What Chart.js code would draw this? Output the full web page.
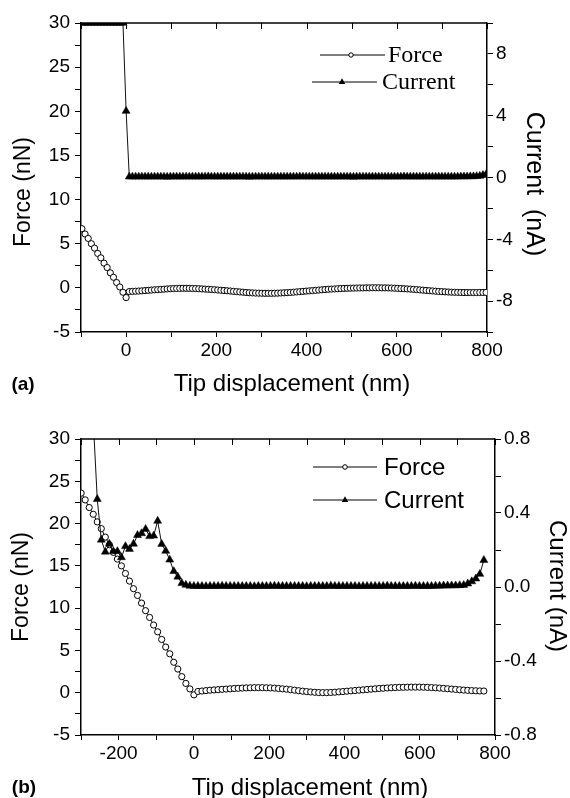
<!DOCTYPE html>
<html lang="en">
  <head>
    <meta charset="UTF-8" />
    <title>Force and current vs tip displacement</title>
    <style>
      body {
        margin: 0;
        padding: 0;
        background: #ffffff;
      }
      canvas {
        display: block;
      }
    </style>
    <script src="https://cdn.jsdelivr.net/npm/chart.js@4"></script>
  </head>
  <body>
    <canvas id="chartA" width="570" height="400"></canvas>
    <canvas id="chartB" width="570" height="398"></canvas>
    <script>
      // ---- panel (a): one sample every 7 nm, from -98 nm ----
      const aStart = -98;
      const aStep = 7;
      const aForce = [
        6.7, 6.1, 5.6, 5.0, 4.5, 3.9, 3.4, 2.8, 2.3, 1.7, 1.2, 0.6, 0.1, -0.5, -1.1,
        -0.42, -0.4, -0.38, -0.36, -0.34, -0.31, -0.28, -0.25, -0.22, -0.2,
        -0.17, -0.15, -0.12, -0.1, -0.08, -0.07, -0.06, -0.05, -0.05, -0.06,
        -0.07, -0.08, -0.1, -0.12, -0.14, -0.16, -0.19, -0.21, -0.24, -0.27,
        -0.3, -0.33, -0.36, -0.4, -0.43, -0.46, -0.49, -0.52, -0.55, -0.57,
        -0.59, -0.6, -0.61, -0.62, -0.62, -0.62, -0.61, -0.6, -0.58, -0.56,
        -0.54, -0.52, -0.49, -0.46, -0.43, -0.4, -0.37, -0.34, -0.31, -0.28,
        -0.25, -0.22, -0.19, -0.16, -0.14, -0.12, -0.1, -0.08, -0.06, -0.05,
        -0.04, -0.03, -0.02, -0.01, -0.01, 0, 0, 0.01, 0.01, 0.01,
        0, 0, -0.01, -0.02, -0.04, -0.06, -0.08, -0.1, -0.12, -0.14,
        -0.17, -0.2, -0.23, -0.26, -0.29, -0.32, -0.35, -0.38, -0.41, -0.43,
        -0.45, -0.47, -0.49, -0.5, -0.51, -0.52, -0.53, -0.53, -0.53, -0.53,
        -0.53, -0.52, -0.52, -0.52,
      ];
      const aCurrent = [
        10, 10, 10, 10, 10, 10, 10, 10, 10, 10, 10, 10, 10, 10, 4.3,
        0.05, 0.05, 0.05, 0.05, 0.05, 0.05, 0.05, 0.05, 0.05, 0.05,
        0.05, 0.05, 0.04, 0.05, 0.05, 0.05, 0.05, 0.05, 0.05, 0.05,
        0.05, 0.05, 0.05, 0.05, 0.05, 0.06, 0.05, 0.05, 0.05, 0.05,
        0.05, 0.05, 0.05, 0.05, 0.05, 0.05, 0.05, 0.05, 0.04, 0.05,
        0.05, 0.05, 0.05, 0.05, 0.05, 0.05, 0.05, 0.05, 0.05, 0.05,
        0.05, 0.05, 0.05, 0.05, 0.06, 0.05, 0.05, 0.05, 0.05, 0.05,
        0.05, 0.05, 0.05, 0.05, 0.05, 0.05, 0.05, 0.05, 0.05, 0.05,
        0.05, 0.04, 0.05, 0.05, 0.05, 0.05, 0.05, 0.05, 0.05, 0.05,
        0.05, 0.05, 0.05, 0.05, 0.05, 0.05, 0.05, 0.06, 0.05, 0.05,
        0.05, 0.05, 0.05, 0.05, 0.05, 0.05, 0.05, 0.05, 0.05, 0.05,
        0.05, 0.05, 0.05, 0.05, 0.05, 0.06, 0.06, 0.06, 0.07, 0.07,
        0.08, 0.1, 0.15, 0.2,
      ];
      const aXLabels = [0, 200, 400, 600, 800];
      const aForceLabels = [-5, 0, 5, 10, 15, 20, 25, 30];
      const aCurrentLabels = [-8, -4, 0, 4, 8];

      // ---- panel (b): one sample every 10.7 nm, from -299.6 nm ----
      const bStart = -299.6;
      const bStep = 10.7;
      const bForce = [
        23.6, 22.8, 21.9, 21.1, 20.2, 19.4, 18.4, 17.5, 16.6, 15.8,
        15.0, 14.1, 13.2, 12.3, 11.5, 10.6, 9.7, 8.9, 8.0, 7.2,
        6.3, 5.4, 4.6, 3.6, 2.8, 1.9, 1.1, 0.45, -0.25,
        0.15, 0.2, 0.25, 0.3, 0.33, 0.36, 0.4, 0.43, 0.46, 0.5,
        0.52, 0.55, 0.57, 0.58, 0.6, 0.6, 0.6, 0.58, 0.57, 0.54,
        0.5, 0.46, 0.42, 0.36, 0.3, 0.24, 0.18, 0.13, 0.09, 0.05,
        0.02, 0.01, 0.01, 0.03, 0.06, 0.1, 0.14, 0.18, 0.22, 0.26,
        0.3, 0.34, 0.38, 0.42, 0.46, 0.5, 0.53, 0.56, 0.59, 0.61,
        0.63, 0.64, 0.65, 0.66, 0.66, 0.66, 0.65, 0.63, 0.61, 0.58,
        0.55, 0.51, 0.47, 0.43, 0.39, 0.35, 0.31, 0.28, 0.25, 0.23,
        0.21, 0.2,
      ];
      const bCurrent = [
        0.9, 0.9, 0.9, 0.9,
        0.475, 0.255, 0.19, 0.233, 0.193, 0.193, 0.16, 0.22, 0.205, 0.233,
        0.28, 0.29, 0.313, 0.274, 0.277, 0.357, 0.232, 0.195, 0.147, 0.085,
        0.055, 0.02, 0.011, 0.006, 0.005,
        0.005, 0.005, 0.004, 0.005, 0.005, 0.005, 0.006, 0.005, 0.005, 0.005, 0.005,
        0.005, 0.005, 0.005, 0.004, 0.005, 0.005, 0.005, 0.005, 0.006, 0.005, 0.005,
        0.005, 0.005, 0.005, 0.005, 0.005, 0.004, 0.005, 0.005, 0.005, 0.005, 0.005,
        0.006, 0.005, 0.005, 0.005, 0.005, 0.005, 0.005, 0.004, 0.005, 0.005, 0.005,
        0.005, 0.005, 0.005, 0.006, 0.005, 0.005, 0.005, 0.005, 0.005, 0.005, 0.006,
        0.005, 0.005, 0.005, 0.005, 0.006, 0.006, 0.007, 0.007, 0.008, 0.008, 0.009,
        0.01, 0.018, 0.03, 0.045, 0.07, 0.145,
      ];
      const bXLabels = [-200, 0, 200, 400, 600, 800];
      const bForceLabels = [-5, 0, 5, 10, 15, 20, 25, 30];
      const bCurrentLabels = [-0.8, -0.4, 0, 0.4, 0.8];

      const SANS = "Arial, 'Liberation Sans', sans-serif";
      const SERIF = "'Times New Roman', 'Liberation Serif', serif";

      function toPoints(values, start, step) {
        return values.map((v, i) => ({ x: Math.round((start + i * step) * 10) / 10, y: v }));
      }

      // top spine with inward ticks, axis titles, panel tag and the in-plot legend
      const decorations = {
        id: "decorations",
        afterDraw(chart, args, o) {
          const { ctx, chartArea: area } = chart;
          const xs = chart.scales.x;
          ctx.save();
          ctx.strokeStyle = "#000";
          ctx.lineWidth = 1.5;
          ctx.beginPath();
          ctx.moveTo(area.left, area.top);
          ctx.lineTo(area.right, area.top);
          ctx.stroke();
          ctx.lineWidth = 1;
          ctx.beginPath();
          xs.ticks.forEach((t) => {
            const px = Math.round(xs.getPixelForValue(t.value)) + 0.5;
            ctx.moveTo(px, area.top);
            ctx.lineTo(px, area.top + 6);
          });
          ctx.stroke();

          ctx.fillStyle = "#000";
          ctx.textAlign = "center";
          ctx.textBaseline = "middle";
          o.texts.forEach((t) => {
            ctx.save();
            ctx.translate(t.x, t.y);
            ctx.rotate(((t.rotate || 0) * Math.PI) / 180);
            ctx.font = t.font;
            ctx.fillText(t.text, 0, 0);
            ctx.restore();
          });

          o.legend.forEach((item, i) => {
            const ds = chart.data.datasets[i];
            ctx.strokeStyle = "#000";
            ctx.lineWidth = 1;
            ctx.beginPath();
            ctx.moveTo(item.x1, item.y);
            ctx.lineTo(item.x2, item.y);
            ctx.stroke();
            ctx.beginPath();
            if (ds.pointStyle === "circle") {
              ctx.arc(item.mx, item.y, item.r, 0, Math.PI * 2);
              ctx.fillStyle = "#fff";
              ctx.fill();
              ctx.stroke();
            } else {
              const r = item.r;
              ctx.moveTo(item.mx, item.y - r);
              ctx.lineTo(item.mx + r * 0.866, item.y + r * 0.5);
              ctx.lineTo(item.mx - r * 0.866, item.y + r * 0.5);
              ctx.closePath();
              ctx.fillStyle = "#000";
              ctx.fill();
            }
            ctx.fillStyle = "#000";
            ctx.font = o.legendFont;
            ctx.textAlign = "left";
            ctx.fillText(ds.label, item.tx, item.y + 1);
          });
          ctx.restore();
        },
      };

      function makePanel(id, p) {
        const tickFont = { family: SANS, size: 19 };
        const axisGrid = (len) => ({
          drawOnChartArea: false,
          drawTicks: true,
          tickLength: len,
          color: "#000",
        });
        return new Chart(document.getElementById(id), {
          type: "line",
          data: {
            datasets: [
              {
                label: "Force",
                data: toPoints(p.force, p.start, p.step),
                yAxisID: "y",
                borderColor: "#000",
                borderWidth: 1,
                pointStyle: "circle",
                pointRadius: 3.1,
                pointBorderWidth: 1,
                pointBackgroundColor: "#fff",
                pointBorderColor: "#000",
                clip: 0,
                order: 2,
              },
              {
                label: "Current",
                data: toPoints(p.current, p.start, p.step),
                yAxisID: "y2",
                borderColor: "#111",
                borderWidth: 1,
                pointStyle: "triangle",
                pointRadius: 4.6,
                pointBorderWidth: 0.5,
                pointBackgroundColor: "#000",
                pointBorderColor: "#000",
                clip: 0,
                order: 1,
              },
            ],
          },
          options: {
            responsive: false,
            animation: false,
            events: [],
            layout: { padding: { top: p.area.top, left: 0, right: 0, bottom: 0 } },
            plugins: {
              legend: { display: false },
              tooltip: { enabled: false },
              decorations: p.decor,
            },
            scales: {
              x: {
                type: "linear",
                position: "bottom",
                min: p.xMin,
                max: 800,
                afterFit: (s) => { s.height = p.size.h - p.area.bottom; },
                border: { color: "#000", width: 1.5 },
                grid: axisGrid(5),
                ticks: {
                  stepSize: 100,
                  autoSkip: false,
                  maxRotation: 0,
                  padding: 2,
                  color: "#000",
                  font: tickFont,
                  callback: (v) => (p.xLabels.includes(v) ? String(v) : ""),
                },
              },
              y: {
                position: "left",
                min: -5,
                max: 30,
                afterFit: (s) => { s.width = p.area.left; },
                border: { color: "#000", width: 1.5 },
                grid: axisGrid(6),
                ticks: {
                  stepSize: 2.5,
                  autoSkip: false,
                  padding: 5,
                  color: "#000",
                  font: tickFont,
                  callback: (v) => (p.forceLabels.includes(v) ? String(v) : ""),
                },
              },
              y2: {
                position: "right",
                min: p.cMin,
                max: p.cMax,
                afterFit: (s) => { s.width = p.size.w - p.area.right; },
                border: { color: "#000", width: 1.5 },
                grid: axisGrid(6),
                ticks: {
                  stepSize: p.cStep,
                  autoSkip: false,
                  padding: 3,
                  color: "#000",
                  font: tickFont,
                  callback: (v) => (p.currentLabels.includes(v) ? p.cFormat(v) : ""),
                },
              },
            },
          },
          plugins: [decorations],
        });
      }

      makePanel("chartA", {
        start: aStart,
        step: aStep,
        force: aForce,
        current: aCurrent,
        xMin: -100,
        cMin: -10,
        cMax: 10,
        cStep: 2,
        cFormat: (v) => String(v),
        xLabels: aXLabels,
        forceLabels: aForceLabels,
        currentLabels: aCurrentLabels,
        size: { w: 570, h: 400 },
        area: { left: 81, right: 487, top: 23, bottom: 332 },
        decor: {
          legendFont: "24px " + SERIF,
          legend: [
            { x1: 320, x2: 385, mx: 351, y: 55, r: 2.2, tx: 388 },
            { x1: 312, x2: 377, mx: 342, y: 82, r: 3.8, tx: 382 },
          ],
          texts: [
            { text: "Tip displacement (nm)", x: 292, y: 384, font: "24px " + SANS },
            { text: "(a)", x: 23, y: 385, font: "bold 19px " + SANS },
            { text: "Force (nN)", x: 24, y: 192, rotate: -90, font: "23px " + SANS },
            { text: "Current  (nA)", x: 534, y: 184, rotate: 90, font: "25px " + SANS },
          ],
        },
      });

      makePanel("chartB", {
        start: bStart,
        step: bStep,
        force: bForce,
        current: bCurrent,
        xMin: -300,
        cMin: -0.8,
        cMax: 0.8,
        cStep: 0.2,
        cFormat: (v) => v.toFixed(1),
        xLabels: bXLabels,
        forceLabels: bForceLabels,
        currentLabels: bCurrentLabels,
        size: { w: 570, h: 398 },
        area: { left: 81, right: 495, top: 39, bottom: 335 },
        decor: {
          legendFont: "24px " + SANS,
          legend: [
            { x1: 313, x2: 377, mx: 345, y: 67, r: 2.3, tx: 384 },
            { x1: 313, x2: 377, mx: 345, y: 100, r: 3.8, tx: 384 },
          ],
          texts: [
            { text: "Tip displacement (nm)", x: 310, y: 388, font: "24px " + SANS },
            { text: "(b)", x: 24, y: 388, font: "bold 19px " + SANS },
            { text: "Force (nN)", x: 22, y: 187, rotate: -90, font: "23px " + SANS },
            { text: "Current (nA)", x: 557, y: 186, rotate: 90, font: "24px " + SANS },
          ],
        },
      });
    </script>
  </body>
</html>
